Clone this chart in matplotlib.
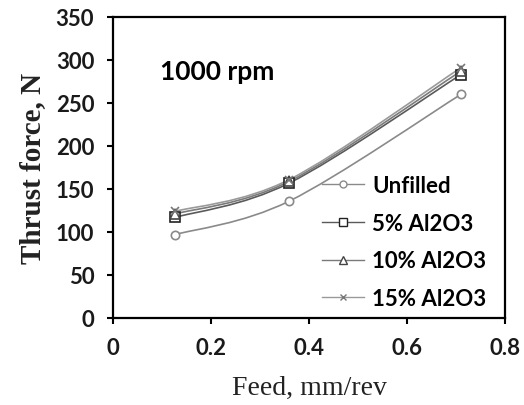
import numpy as np
import matplotlib
matplotlib.use("Agg")
import matplotlib.pyplot as plt
from matplotlib.path import Path
from matplotlib.patches import PathPatch
from matplotlib.lines import Line2D

# --- data ---
feed = [0.127, 0.36, 0.71]
unfilled = [97, 136, 260]
al5 = [117, 157, 283]
al10 = [121, 159, 287]
al15 = [124, 161, 291]

labels = ["Unfilled", "5% Al2O3", "10% Al2O3", "15% Al2O3"]
series = [unfilled, al5, al10, al15]

# style per series: (line colour, marker, marker edge colour, marker size)
styles = [
    ("#8a8a8a", "o", "#8a8a8a", 6),
    ("#5a5a5a", "s", "#222222", 7),
    ("#7a7a7a", "^", "#444444", 7),
    ("#9a9a9a", "x", "#777777", 6),
]

SANS = ["Lato", "DejaVu Sans"]
SERIF = ["Liberation Serif", "DejaVu Serif"]


def smooth_path(xs, ys):
    # Excel-style smoothed line: cubic Bezier segments through every point
    pts = np.column_stack([xs, ys]).astype(float)
    n = len(pts)
    verts = [pts[0]]
    codes = [Path.MOVETO]
    for i in range(n - 1):
        p_prev = pts[i - 1] if i > 0 else pts[i]
        p0, p1 = pts[i], pts[i + 1]
        p_next = pts[i + 2] if i + 2 < n else pts[i + 1]
        c1 = p0 + (p1 - p_prev) / 6.0
        c2 = p1 - (p_next - p0) / 6.0
        verts += [c1, c2, p1]
        codes += [Path.CURVE4] * 3
    return Path(verts, codes)


fig = plt.figure(figsize=(5.24, 4.06), dpi=100)
ax = fig.add_axes([0.2156, 0.2143, 0.7481, 0.7414])

for ys, (lc, mk, mec, ms) in zip(series, styles):
    ax.add_patch(PathPatch(smooth_path(feed, ys), fill=False, edgecolor=lc, lw=1.2, zorder=2))
    ax.plot(feed, ys, linestyle="none", marker=mk, ms=ms, mfc="white" if mk != "x" else mec,
            mec=mec, mew=1.2, zorder=3)

ax.set_xlim(0, 0.8)
ax.set_ylim(0, 350)
ax.set_xticks([0, 0.2, 0.4, 0.6, 0.8])
ax.set_xticklabels(["0", "0.2", "0.4", "0.6", "0.8"])
ax.set_yticks(range(0, 351, 50))

for sp in ax.spines.values():
    sp.set_linewidth(1.6)
ax.tick_params(direction="out", length=4.5, width=1.5, pad=9)
for t in ax.get_xticklabels() + ax.get_yticklabels():
    t.set_fontfamily(SANS)
    t.set_fontweight("bold")
    t.set_fontsize(16)
    t.set_color("#1a1a1a")

ax.set_xlabel("Feed, mm/rev", family=SERIF, fontsize=20, labelpad=12, color="#222222")
ax.set_ylabel("Thrust force, N", family=SERIF, fontsize=21, fontweight="bold", labelpad=7,
              color="#222222")

ax.text(0.12, 0.82, "1000 rpm", transform=ax.transAxes, family=SANS, fontsize=19,
        fontweight="bold", va="center", ha="left")

handles = [Line2D([], [], color=lc, lw=1.0, marker=mk, ms=ms - 1,
                  mfc="white" if mk != "x" else mec, mec=mec, mew=1.0)
           for (lc, mk, mec, ms) in styles]
leg = ax.legend(handles, labels, loc="upper left", bbox_to_anchor=(0.533, 0.475),
                frameon=False, borderpad=0, borderaxespad=0, handlelength=1.9,
                handletextpad=0.35, labelspacing=0.75,
                prop={"family": SANS, "weight": "bold", "size": 16})

fig.savefig("out.png", dpi=100)
